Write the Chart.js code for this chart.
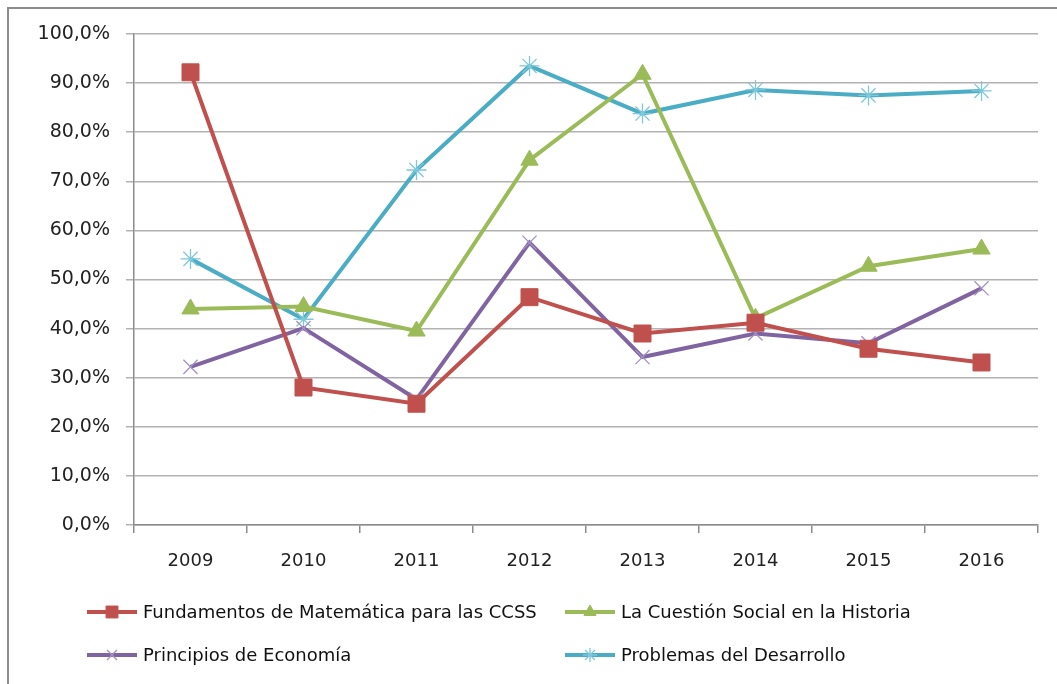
<!DOCTYPE html>
<html>
<head>
<meta charset="utf-8">
<script src="https://cdn.jsdelivr.net/npm/chart.js@4/dist/chart.umd.min.js"></script>
<style>
  body { margin: 0; background: #fff; overflow: hidden; }
  #frame {
    position: absolute; left: 7px; top: 7px; width: 1100px; height: 720px;
    border: 2px solid #8c8c8c; box-sizing: border-box;
  }
  #wrap { position: absolute; left: 0; top: 0; width: 1057px; height: 684px; }
</style>
</head>
<body>
<div id="frame"></div>
<div id="wrap"><canvas id="chart" width="1057" height="684"></canvas></div>
<script>
// Data (percent)
const years = ["2009", "2010", "2011", "2012", "2013", "2014", "2015", "2016"];
const fundamentos = [92.2, 28.0, 24.7, 46.4, 39.0, 41.2, 35.9, 33.1];
const cuestionSocial = [44.0, 44.5, 39.5, 74.3, 91.8, 42.1, 52.7, 56.2];
const principios = [32.2, 40.1, 25.6, 57.5, 34.2, 39.0, 37.0, 48.2];
const problemas = [54.2, 41.9, 72.3, 93.5, 83.8, 88.6, 87.5, 88.4];
const yTicks = [0, 10, 20, 30, 40, 50, 60, 70, 80, 90, 100];

const FONT = "'DejaVu Sans', Verdana, sans-serif";

function series(label, data, color, pointColor, style, radius, pbw) {
  return {
    label: label,
    data: data,
    borderColor: color,
    backgroundColor: color,
    borderWidth: 4,
    pointStyle: style,
    pointRadius: radius,
    pointHoverRadius: radius,
    pointBackgroundColor: pointColor,
    pointBorderColor: pointColor,
    pointBorderWidth: pbw,
    tension: 0,
    fill: false,
  };
}

// Legend in two columns, under the x axis
const legendPlugin = {
  id: "twoColLegend",
  afterDraw(chart) {
    const ctx = chart.ctx;
    const cols = [87, 565];
    const rows = [612, 655];
    chart.data.datasets.forEach((ds, i) => {
      const x = cols[i % 2];
      const y = rows[Math.floor(i / 2)];
      ctx.save();
      ctx.strokeStyle = ds.borderColor;
      ctx.lineWidth = 4;
      ctx.beginPath();
      ctx.moveTo(x, y);
      ctx.lineTo(x + 50, y);
      ctx.stroke();
      ctx.fillStyle = ds.pointBackgroundColor;
      ctx.strokeStyle = ds.pointBorderColor;
      ctx.lineWidth = ds.pointBorderWidth;
      Chart.helpers.drawPoint(ctx, {
        pointStyle: ds.pointStyle,
        radius: ds.pointRadius * 0.7,
        rotation: 0,
        borderWidth: ds.pointBorderWidth,
      }, x + 25, y);
      ctx.fillStyle = "#111";
      ctx.font = "18px " + FONT;
      ctx.textBaseline = "middle";
      ctx.textAlign = "left";
      ctx.fillText(ds.label, x + 56, y + 1);
      ctx.restore();
    });
  },
};

new Chart(document.getElementById("chart").getContext("2d"), {
  type: "line",
  data: {
    labels: years,
    datasets: [
      series("Fundamentos de Matemática para las CCSS", fundamentos, "#C0504D", "#C0504D", "rect", 12, 1),
      series("La Cuestión Social en la Historia", cuestionSocial, "#9BBB59", "#9BBB59", "triangle", 10, 1),
      series("Principios de Economía", principios, "#8064A2", "#A491C4", "crossRot", 10, 1.3),
      series("Problemas del Desarrollo", problemas, "#4BACC6", "#7FC8DB", "star", 10, 1.3),
    ],
  },
  options: {
    responsive: false,
    animation: false,
    layout: { padding: { left: 0, top: 34, right: 19, bottom: 0 } },
    plugins: {
      legend: { display: false },
      tooltip: { enabled: false },
    },
    scales: {
      x: {
        offset: true,
        grid: {
          offset: true,
          drawOnChartArea: false,
          drawTicks: true,
          tickLength: 8,
          color: "#8c8c8c",
          lineWidth: 1.5,
        },
        border: { color: "#8c8c8c", width: 1.5 },
        ticks: {
          color: "#222",
          font: { family: FONT, size: 18 },
          padding: 18,
          maxRotation: 0,
        },
        afterFit(scale) { scale.height = 159; },
      },
      y: {
        min: 0,
        max: 100,
        afterBuildTicks(scale) {
          scale.ticks = yTicks.map((v) => ({ value: v }));
        },
        grid: {
          color: "#b2b2b2",
          lineWidth: 1.5,
          tickLength: 8,
        },
        border: { color: "#8c8c8c", width: 1.5 },
        ticks: {
          color: "#222",
          font: { family: FONT, size: 19 },
          padding: 16,
          callback: (v) => v.toFixed(1).replace(".", ",") + "%",
        },
        afterFit(scale) { scale.width = 134; },
      },
    },
  },
  plugins: [legendPlugin],
});
</script>
</body>
</html>
